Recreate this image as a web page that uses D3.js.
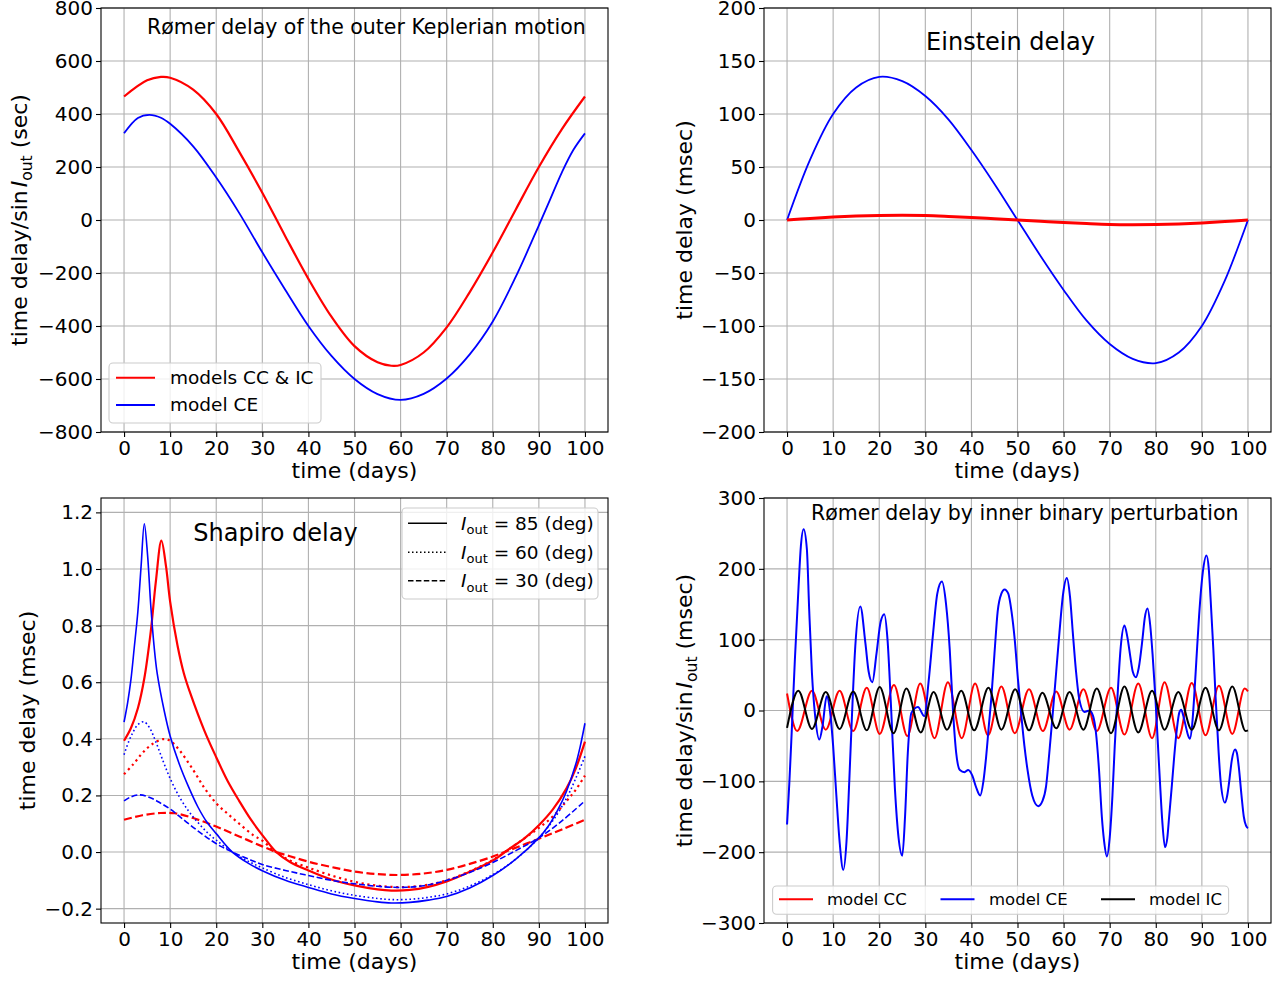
<!DOCTYPE html>
<html><head><meta charset="utf-8">
<script src="https://cdn.jsdelivr.net/npm/d3@7"></script>
<style>
body{margin:0;background:#fff;}
text{font-family:"DejaVu Sans",sans-serif;}
</style></head><body>
<script>
// ---------------- DATA ----------------
const xTicks = [0,10,20,30,40,50,60,70,80,90,100];
const yTicksRomer = [-800,-600,-400,-200,0,200,400,600,800];
const yTicksEinstein = [-200,-150,-100,-50,0,50,100,150,200];
const yTicksShapiro = [-0.2,0,0.2,0.4,0.6,0.8,1.0,1.2];
const yTicksPert = [-300,-200,-100,0,100,200,300];

// Rømer delay of the outer Keplerian motion [day, sec]
const romerCCIC = [[0,466],[5,527],[8,540],[10,537],[15,492],[20,400],[25,257],[30,103],[35,-62],[40,-222],[45,-365],[50,-476],[55,-537],[58,-550],[60,-547],[65,-500],[70,-405],[75,-272],[80,-122],[85,40],[90,200],[95,343],[100,466]];
const romerCE = [[0,327],[3,385],[5.5,397],[8,386],[10,363],[15,278],[20,160],[25,26],[30,-122],[35,-264],[40,-400],[45,-513],[50,-600],[55,-657],[60,-679],[65,-656],[70,-598],[75,-507],[80,-383],[85,-214],[90,-20],[92.5,80],[95,180],[97.5,265],[100,327]];

// Einstein delay [day, msec]
const einsteinCE = [[0,0],[5,57],[10,100],[15,125],[20,135],[25,131],[30,117],[35,95],[40,66],[45,34],[50,0],[55,-34],[60,-66],[65,-95],[70,-117],[75,-131],[80,-135],[85,-125],[90,-100],[95,-57],[100,0]];
const einsteinCC = [[0,0],[5,1.5],[10,2.8],[15,3.7],[20,4.2],[25,4.4],[30,4.2],[35,3.4],[40,2.4],[45,1.2],[50,0],[55,-1.2],[60,-2.4],[65,-3.4],[70,-4.2],[75,-4.4],[80,-4.2],[85,-3.7],[90,-2.8],[95,-1.5],[100,0]];

// Shapiro delay [day, msec]
const shapiroCE85 = [[0,0.459],[0.8,0.53],[1.5,0.61],[2.2,0.72],[3,0.85],[3.7,1.01],[4.4,1.16],[5.1,1.05],[5.8,0.87],[6.5,0.73],[7.2,0.63],[8.7,0.50],[10,0.41],[12,0.31],[14,0.23],[16,0.16],[18,0.105],[20,0.065],[23.5,0.0],[27,-0.04],[30,-0.066],[35,-0.10],[40,-0.125],[45,-0.148],[50,-0.164],[55,-0.176],[58,-0.18],[62,-0.178],[66,-0.17],[70,-0.157],[75,-0.127],[80,-0.083],[85,-0.025],[90,0.05],[92,0.09],[94,0.145],[96,0.215],[98,0.31],[99,0.375],[100,0.455]];
const shapiroCE60 = [[0,0.344],[1,0.39],[2,0.425],[3,0.45],[4.3,0.46],[5.5,0.44],[7,0.385],[8.5,0.32],[10,0.26],[12,0.195],[14,0.145],[16,0.105],[18,0.07],[20,0.042],[23.5,0.0],[27,-0.033],[30,-0.056],[35,-0.09],[40,-0.115],[45,-0.137],[50,-0.153],[55,-0.164],[58,-0.168],[62,-0.167],[66,-0.16],[70,-0.148],[75,-0.12],[80,-0.08],[85,-0.025],[90,0.05],[93,0.11],[96,0.19],[98,0.26],[100,0.338]];
const shapiroCE30 = [[0,0.181],[1.5,0.195],[3.5,0.202],[6,0.19],[8,0.172],[10,0.152],[13,0.113],[16,0.075],[19,0.04],[21,0.02],[23.5,0.0],[27,-0.025],[30,-0.044],[35,-0.065],[40,-0.083],[45,-0.1],[50,-0.112],[55,-0.121],[60,-0.125],[65,-0.119],[70,-0.1],[75,-0.072],[80,-0.037],[85,0.005],[90,0.05],[95,0.11],[100,0.181]];
const shapiroCC85 = [[0,0.393],[1.5,0.438],[3,0.508],[4.4,0.614],[5.8,0.78],[6.9,0.955],[8.1,1.10],[9.1,1.01],[10,0.885],[11.6,0.73],[13,0.63],[14.5,0.555],[17.4,0.43],[20,0.335],[22.5,0.25],[25,0.18],[27.5,0.115],[30,0.06],[33,0.0],[36,-0.035],[40,-0.065],[45,-0.097],[50,-0.118],[55,-0.132],[58,-0.136],[62,-0.134],[66,-0.123],[70,-0.104],[75,-0.07],[80,-0.03],[83.5,0.01],[87,0.05],[90,0.095],[93,0.15],[96,0.225],[98,0.295],[100,0.39]];
const shapiroCC60 = [[0,0.275],[2,0.31],[4,0.35],[6,0.38],[8.5,0.399],[10,0.393],[12,0.36],[15,0.29],[17.5,0.225],[20,0.172],[22.5,0.135],[25,0.1],[28,0.06],[30,0.04],[33,0.0],[36,-0.03],[40,-0.055],[45,-0.083],[50,-0.105],[55,-0.119],[60,-0.124],[65,-0.118],[70,-0.1],[75,-0.068],[80,-0.028],[83.5,0.01],[87,0.05],[90,0.085],[93,0.125],[96,0.18],[98,0.22],[100,0.27]];
const shapiroCC30 = [[0,0.114],[4,0.13],[8,0.138],[11,0.137],[15,0.12],[20,0.09],[25,0.055],[30,0.02],[33,0.0],[36,-0.015],[40,-0.034],[45,-0.053],[50,-0.069],[55,-0.078],[60,-0.081],[65,-0.076],[70,-0.063],[75,-0.042],[80,-0.016],[83.5,0.006],[90,0.047],[95,0.08],[100,0.114]];

// Rømer delay by inner binary perturbation [day, msec]
const pertCC = [[0,24],[2.2,-29],[5.4,28],[8.4,-27],[11.4,28],[14.35,-29],[17.3,32],[20.1,-33],[23.2,36],[26.1,-36],[28.9,38],[32.0,-39],[34.9,40],[37.9,-39],[40.8,38],[43.6,-35],[46.5,34],[49.4,-32],[52.5,30],[55.5,-29],[58.4,27],[61.3,-27],[64.3,30],[67.2,-29],[70.3,32],[73.2,-34],[76.2,38],[79.2,-39],[81.9,40],[84.9,-39],[87.8,39],[90.8,-35],[93.7,35],[96.6,-33],[99.3,31],[100,27]];
const pertIC = [[0,-24.5],[2.45,28],[5.4,-26],[8.4,26],[11.4,-26],[14.35,27],[17.3,-28],[20.1,33],[23.1,-32],[25.9,31],[29.0,-31],[31.8,26],[34.7,-27],[37.8,28],[40.6,-28],[43.7,32],[46.5,-27],[49.5,30],[52.5,-28],[55.4,25],[58.4,-25],[61.3,26],[64.3,-27],[67.2,31],[70.3,-32],[73.2,34],[76.2,-31],[79.2,28],[81.9,-27],[84.9,26],[87.8,-27],[90.8,32],[93.7,-28],[96.6,34],[99.5,-29],[100,-28]];
const pertCE = [[0,-161],[0.5,-102],[1.0,-32],[1.7,72],[2.5,175],[3.0,232],[3.6,256],[4.3,228],[4.8,143],[5.4,53],[6.1,-8],[7.0,-41],[7.7,-22],[8.6,20],[9.3,0],[10.0,-50],[10.7,-120],[11.4,-185],[12.2,-225],[12.9,-185],[13.5,-100],[14.1,-5],[14.8,90],[15.9,147],[17.0,95],[17.7,55],[18.5,40],[19.4,80],[20.3,125],[21.1,136],[21.8,100],[22.6,0],[23.4,-110],[24.2,-180],[25.0,-205],[25.6,-150],[26.2,-60],[27.0,-3],[28.4,5],[29.8,-8],[30.7,40],[31.7,110],[32.6,165],[33.6,182],[34.5,150],[35.3,86],[36.0,0],[36.7,-60],[37.5,-84],[38.5,-87],[39.3,-84],[40.2,-92],[41.0,-108],[41.9,-120],[42.6,-100],[43.2,-65],[43.8,-20],[44.3,16],[45.0,80],[45.7,140],[46.5,165],[47.2,171],[48.0,165],[48.7,140],[49.4,100],[50.1,44],[50.8,-5],[51.5,-50],[52.2,-85],[53.2,-120],[54.5,-135],[55.4,-128],[56.2,-107],[56.9,-60],[57.6,-8],[58.4,55],[59.1,110],[59.9,165],[60.7,187],[61.4,160],[62.0,110],[62.7,55],[63.4,16],[64.5,-2],[65.6,0],[66.4,-8],[67.0,-30],[67.7,-85],[68.3,-150],[68.8,-185],[69.4,-206],[70.0,-180],[70.6,-120],[71.1,-50],[71.7,20],[72.4,90],[73.2,120],[73.8,105],[74.5,75],[75.0,55],[75.7,47],[76.3,60],[77.1,100],[77.6,130],[78.2,144],[78.8,120],[79.3,80],[79.9,20],[80.4,-40],[80.9,-100],[81.4,-155],[82.0,-193],[82.5,-180],[82.9,-150],[83.5,-105],[84.0,-65],[84.6,-25],[85.1,-3],[85.5,1],[86.0,-8],[86.5,-22],[87.0,-35],[87.4,-40],[87.9,-20],[88.3,16],[88.8,70],[89.4,134],[90.2,195],[91.0,219],[91.5,200],[91.9,157],[92.5,85],[93.0,16],[93.6,-55],[94.1,-102],[95.0,-130],[95.5,-120],[95.9,-102],[96.5,-70],[97.2,-55],[97.6,-60],[98.0,-79],[98.6,-120],[99.1,-150],[99.6,-163],[100,-166]];

// ---------------- DRAWING ----------------
const W = 1286, H = 981;
const svg = d3.select("body").append("svg").attr("width", W).attr("height", H)
  .style("display","block");
const FONT = "DejaVu Sans";
const smooth = d3.curveCatmullRom.alpha(0.5);

function panel(p) {
  const g = svg.append("g").attr("transform", `translate(${p.left},${p.top})`);
  const x = d3.scaleLinear().domain([-5, 105]).range([0, p.w]);
  const y = d3.scaleLinear().domain(p.yDomain).range([p.h, 0]);
  // grid
  g.append("g").selectAll("line").data(xTicks).join("line")
    .attr("x1", d => x(d)).attr("x2", d => x(d)).attr("y1", 0).attr("y2", p.h)
    .attr("stroke", "#b0b0b0").attr("stroke-width", 1.1);
  g.append("g").selectAll("line").data(p.yTicks).join("line")
    .attr("y1", d => y(d)).attr("y2", d => y(d)).attr("x1", 0).attr("x2", p.w)
    .attr("stroke", "#b0b0b0").attr("stroke-width", 1.1);
  // clip
  const cid = "clip" + p.id;
  g.append("clipPath").attr("id", cid).append("rect").attr("width", p.w).attr("height", p.h);
  const plot = g.append("g").attr("clip-path", `url(#${cid})`);
  const line = d3.line().x(d => x(d[0])).y(d => y(d[1])).curve(p.curve || smooth);
  p.series.forEach(s => {
    plot.append("path").attr("d", line(s.data)).attr("fill", "none")
      .attr("stroke", s.color).attr("stroke-width", s.lw)
      .attr("stroke-dasharray", s.dash || null)
      .attr("stroke-linejoin","round");
  });
  // spines
  g.append("rect").attr("width", p.w).attr("height", p.h).attr("fill", "none")
    .attr("stroke", "#000").attr("stroke-width", 1.1);
  // axes
  const xa = g.append("g").attr("transform", `translate(0,${p.h})`)
    .call(d3.axisBottom(x).tickValues(xTicks).tickSize(5).tickPadding(3.5).tickFormat(d3.format("d")));
  xa.select(".domain").remove();
  xa.attr("font-size", 20).attr("font-family", FONT);
  xa.selectAll("line").attr("stroke-width", 1.1);
  const ya = g.append("g")
    .call(d3.axisLeft(y).tickValues(p.yTicks).tickSize(5).tickPadding(3).tickFormat(d3.format(p.yFormat)));
  ya.select(".domain").remove();
  ya.attr("font-size", 20).attr("font-family", FONT);
  ya.selectAll("line").attr("stroke-width", 1.1);
  // x label
  g.append("text").attr("x", p.w / 2).attr("y", p.h + 46).attr("text-anchor", "middle")
    .attr("font-size", 22).text("time (days)");
  // y label
  const yl = g.append("text").attr("transform", `translate(${p.ylabelX - p.left},${p.h / 2}) rotate(-90)`)
    .attr("text-anchor", "middle").attr("font-size", 22);
  p.ylabel(yl);
  return { g, x, y };
}

function sinLabel(unit) {
  return t => {
    t.append("tspan").text("time delay/sin");
    t.append("tspan").attr("font-style", "italic").attr("dx", 3).text("I");
    t.append("tspan").attr("font-size", 15.5).attr("dy", 5).text("out");
    t.append("tspan").attr("dy", -5).text(" (" + unit + ")");
  };
}

function legendBox(x, y, w, h) {
  svg.append("rect").attr("x", x).attr("y", y).attr("width", w).attr("height", h)
    .attr("rx", 4).attr("fill", "#fff").attr("fill-opacity", 0.8)
    .attr("stroke", "#cccccc").attr("stroke-width", 1.1);
}

// ----- Top-left: Rømer delay outer -----
panel({
  id: "tl", left: 101, top: 8, w: 507, h: 424,
  yDomain: [-800, 800], yTicks: yTicksRomer, yFormat: "d",
  ylabelX: 27, ylabel: sinLabel("sec"),
  series: [
    { data: romerCCIC, color: "#ff0000", lw: 2.2 },
    { data: romerCE, color: "#0000ff", lw: 1.8 }
  ]
});
svg.append("text").attr("x", 147).attr("y", 33.5).attr("font-size", 20.5)
  .text("Rømer delay of the outer Keplerian motion");
legendBox(109, 363, 212, 60);
[["models CC & IC", "#ff0000", 377.7], ["model CE", "#0000ff", 405]].forEach(([lab, c, yy]) => {
  svg.append("line").attr("x1", 116).attr("x2", 155).attr("y1", yy).attr("y2", yy)
    .attr("stroke", c).attr("stroke-width", 2);
  svg.append("text").attr("x", 170).attr("y", yy).attr("dy", "0.35em").attr("font-size", 18.5).text(lab);
});

// ----- Top-right: Einstein delay -----
panel({
  id: "tr", left: 764, top: 8, w: 507, h: 424,
  yDomain: [-200, 200], yTicks: yTicksEinstein, yFormat: "d",
  ylabelX: 692, ylabel: t => t.text("time delay (msec)"),
  series: [
    { data: einsteinCE, color: "#0000ff", lw: 1.8 },
    { data: einsteinCC, color: "#ff0000", lw: 3 }
  ]
});
svg.append("text").attr("x", 1010.5).attr("y", 49.5).attr("font-size", 24)
  .attr("text-anchor", "middle").text("Einstein delay");

// ----- Bottom-left: Shapiro delay -----
panel({
  id: "bl", left: 101, top: 498, w: 507, h: 425,
  yDomain: [-0.2507, 1.2508], yTicks: yTicksShapiro, yFormat: ".1f",
  ylabelX: 35, ylabel: t => t.text("time delay (msec)"),
  series: [
    { data: shapiroCC85, color: "#ff0000", lw: 2.2 },
    { data: shapiroCC60, color: "#ff0000", lw: 2.2, dash: "2.2 3.6" },
    { data: shapiroCC30, color: "#ff0000", lw: 2.2, dash: "8 3.5" },
    { data: shapiroCE85, color: "#0000ff", lw: 1.6 },
    { data: shapiroCE60, color: "#0000ff", lw: 1.6, dash: "1.6 2.6" },
    { data: shapiroCE30, color: "#0000ff", lw: 1.6, dash: "6 2.6" }
  ]
});
svg.append("text").attr("x", 275.5).attr("y", 541).attr("font-size", 24)
  .attr("text-anchor", "middle").text("Shapiro delay");
legendBox(402, 508, 196, 91);
[["85", null, 523.3], ["60", "1.5 2.5", 552.3], ["30", "5.5 2.4", 580.7]].forEach(([deg, dash, yy]) => {
  svg.append("line").attr("x1", 408).attr("x2", 447).attr("y1", yy).attr("y2", yy)
    .attr("stroke", "#000").attr("stroke-width", 1.5).attr("stroke-dasharray", dash);
  const t = svg.append("text").attr("x", 461).attr("y", yy).attr("dy", "0.35em").attr("font-size", 18.5);
  t.append("tspan").attr("font-style", "italic").text("I");
  t.append("tspan").attr("font-size", 13).attr("dy", 4.5).text("out");
  t.append("tspan").attr("dy", -4.5).text(" = " + deg + " (deg)");
});

// ----- Bottom-right: perturbation -----
panel({
  id: "br", left: 764, top: 498, w: 507, h: 425,
  yDomain: [-300, 300], yTicks: yTicksPert, yFormat: "d",
  ylabelX: 692, ylabel: sinLabel("msec"),
  curve: d3.curveMonotoneX,
  series: [
    { data: pertCC, color: "#ff0000", lw: 2 },
    { data: pertCE, color: "#0000ff", lw: 2 },
    { data: pertIC, color: "#000000", lw: 2 }
  ]
});
svg.append("text").attr("x", 811).attr("y", 520).attr("font-size", 20.5)
  .text("Rømer delay by inner binary perturbation");
legendBox(772.6, 886, 456, 28.3);
[["model CC", "#ff0000", 779, 827], ["model CE", "#0000ff", 940.5, 989], ["model IC", "#000000", 1101, 1149]].forEach(([lab, c, lx, tx]) => {
  svg.append("line").attr("x1", lx).attr("x2", lx + 34).attr("y1", 899.3).attr("y2", 899.3)
    .attr("stroke", c).attr("stroke-width", 2);
  svg.append("text").attr("x", tx).attr("y", 899.3).attr("dy", "0.35em").attr("font-size", 16.5).text(lab);
});
</script>
</body></html>
